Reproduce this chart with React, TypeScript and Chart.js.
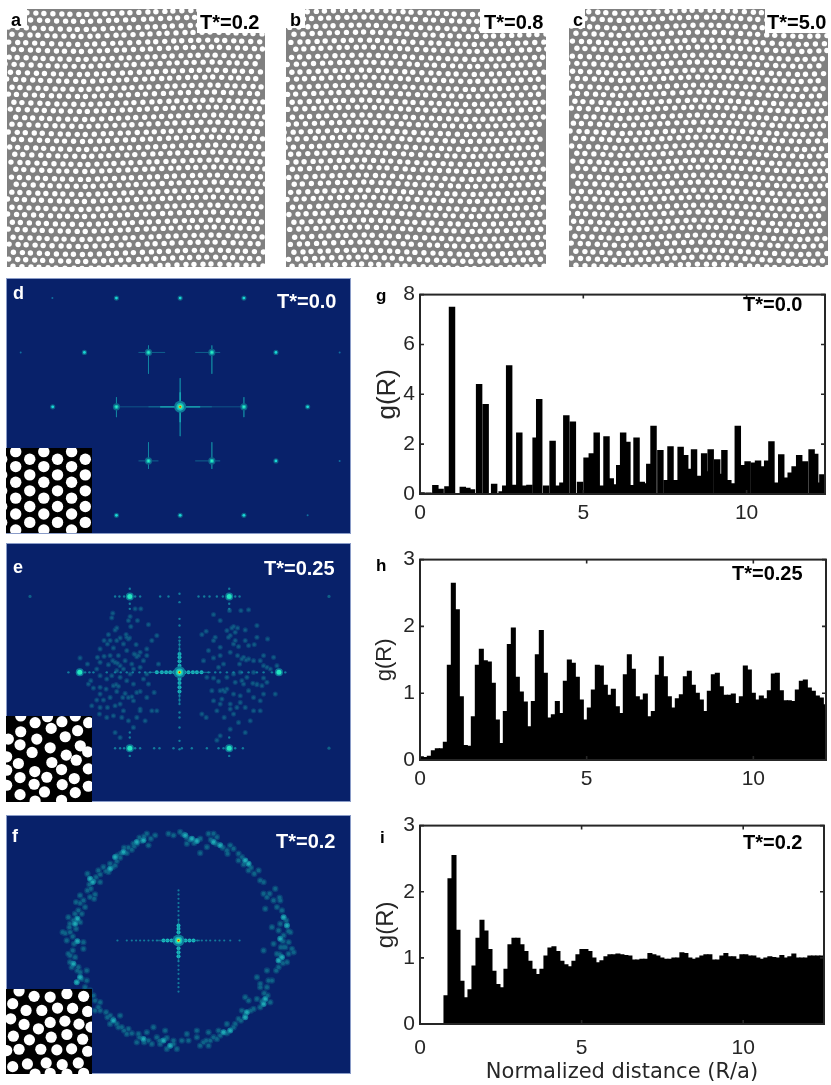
import React, { useEffect, useRef } from "react";
import { Chart, registerables } from "chart.js";
Chart.register(...registerables);

// ---- g(R) histograms ----
const gX = [.05,.26,.47,.63,.84,.98,1.31,1.45,1.59,1.81,2.01,2.27,2.5,2.61,2.73,2.88,3.04,3.18,3.35,3.54,3.65,3.86,4.06,4.2,4.36,4.48,4.68,4.9,5.1,5.26,5.41,5.56,5.71,5.84,5.97,6.1,6.22,6.35,6.48,6.63,6.79,6.92,7.02,7.15,7.36,7.55,7.67,7.84,7.98,8.12,8.23,8.39,8.53,8.7,8.8,8.9,9.1,9.2,9.32,9.44,9.57,9.73,9.87,10.03,10.22,10.35,10.51,10.63,10.76,10.91,11.06,11.2,11.35,11.47,11.61,11.79,11.99,12.1,12.2,12.32,12.38];
const gY = [.06,.05,.35,.2,.3,7.5,.28,.24,.18,4.4,3.6,.4,.1,.33,5.15,.36,2.45,.33,.36,2.25,3.8,.33,2.12,.33,.45,3.15,2.9,.48,1.45,1.62,2.45,.33,2.3,.62,.38,1.15,2.45,2.08,.35,2.25,.48,.42,1.2,2.72,1.75,.55,1.9,.55,1.88,1.55,1,1.78,.72,1.62,.9,1.78,1.38,.8,1.75,.55,.42,2.72,1.15,1.3,1.25,1.33,1.1,1.33,2.1,.45,1.58,.65,.85,1.1,1.55,1.3,1.78,1.6,.45,.78,.72];
const hY = [.05,.04,.06,.14,.17,.17,.27,1.42,2.65,2.25,.95,.22,.21,.65,1.42,1.66,1.49,1.47,1.15,.6,.25,.73,1.73,1.98,1.24,1.02,.87,.5,.88,1.58,1.94,1.3,.63,.68,.88,.7,1.18,1.5,1.45,1.24,.9,.6,.78,1.05,1.42,1.41,1.12,.97,1.06,.8,.7,1.28,1.58,1.36,.95,.9,.99,.65,.73,1.27,1.55,1.25,.95,.78,.92,.98,1.25,1.33,1.12,1,.9,.73,1.03,1.28,1.3,1.1,.97,.97,.99,.85,.95,1.41,1.35,1,.9,.96,.92,1.04,1.29,1.3,1.04,.89,.89,.88,1.05,1.18,1.2,1.08,1.03,.96,.93,.83];
const iY = [.43,2.2,2.55,1.42,.65,.4,.52,.88,1.3,1.57,1.41,1.13,.8,.6,.55,.83,1.2,1.3,1.3,1.2,1.1,.95,.83,.75,.83,1.03,1.15,1.17,1.1,.95,.9,.87,.95,1.05,1.13,1.13,1.1,1,.93,.96,1.02,1.05,1.05,1.06,1.05,1.04,1.03,.97,.97,.98,.98,1.07,1.05,1.03,1,.98,.98,1,1,1.08,1.07,1,.98,1,1.03,1.05,1.05,.97,.97,1.03,1.07,1.02,1.02,.98,1.05,1.05,1.03,1.03,1,.98,1,1.02,1.01,1,1.04,1,1.02,1.06,1,1,1,1.03,1.03,1.03,1.03];
const xTicks5 = [0, 5, 10];

// ---- real-space particle maps: [row y, x, x, ...] ----
const rowsAll = [
[3,3,12,20,29,37,46,55,63,72,80,89,98,106,115,123,132,141,149,158,166,175,184,192,201,209,218,227,235,244,252],
[10,7,16,24,33,41,50,59,67,76,84,93,102,110,119,127,137,145,154,163,171,180,188,197,206,214,223,231,240,249,257],
[18,2,11,20,28,37,45,54,63,71,80,88,97,106,114,123,132,141,149,158,166,175,184,192,201,209,218,227,235,244,252],
[25,6,15,24,32,41,49,58,67,75,84,92,101,110,118,127,136,144,153,161,170,179,187,196,204,213,222,230,239,247,256],
[33,3,12,20,29,37,46,55,63,72,81,89,98,107,115,124,133,142,150,159,168,176,185,193,202,211,219,228,236,245,254],
[40,8,16,25,33,42,51,59,68,76,85,94,102,111,119,128,137,145,154,163,171,180,188,197,206,214,223,232,240,249,257],
[48,4,12,21,30,38,47,55,64,73,81,90,98,107,116,124,133,142,150,159,167,176,185,193,202,210,219,228,236,245,253],
[55,0,9,17,26,35,43,52,60,69,78,86,95,103,112,121,129,138,146,155,164,172,181,189,198,207,215,224,232,241,250],
[63,5,13,22,31,39,48,56,65,74,82,91,99,108,117,125,134,143,151,160,168,177,186,194,203,211,220,229,237,246,255],
[70,1,10,18,27,35,44,53,61,70,78,87,96,104,113,121,130,139,147,156,164,173,182,190,199,207,216,225,233,242,250],
[78,6,14,23,32,40,49,57,66,75,83,92,100,109,118,126,135,143,152,161,169,178,186,195,204,212,221,229,238,247,255],
[85,2,10,19,28,36,45,53,62,71,79,88,96,105,114,122,131,139,148,157,165,174,182,191,200,208,217,225,234,243,251],
[93,7,15,24,33,41,50,58,67,76,84,93,101,110,119,127,136,145,153,162,170,179,188,196,205,213,222,231,239,248,256],
[100,3,11,20,29,37,46,54,63,72,80,89,97,106,115,123,132,140,149,158,166,175,183,192,201,209,218,226,235,244,252],
[108,8,17,25,34,42,51,60,68,77,85,94,103,111,120,128,137,146,154,163,171,180,189,197,206,214,223,232,240,249,257],
[115,4,12,21,30,38,47,55,64,73,81,90,98,107,116,124,133,141,150,159,167,176,184,193,202,210,219,227,236,245,253],
[123,0,9,17,26,34,43,52,60,69,77,86,95,103,112,120,129,138,146,155,163,172,181,189,198,206,215,224,232,241,249],
[130,5,13,22,31,39,48,56,65,74,82,91,99,108,117,125,134,142,151,160,168,177,185,194,203,211,220,228,237,246,254],
[138,1,9,18,27,35,44,52,61,70,78,87,95,104,113,121,130,139,147,156,164,173,182,190,199,207,216,225,233,242,250],
[145,6,14,23,32,40,49,57,66,75,83,92,100,109,118,126,135,144,152,161,169,178,187,195,204,212,221,230,238,247,255],
[153,2,11,19,28,36,45,54,62,71,79,88,97,105,114,122,131,140,148,157,165,174,183,191,200,208,217,226,234,243,251],
[160,7,15,24,33,41,50,58,67,76,84,93,101,110,119,127,136,144,153,162,170,179,187,196,205,213,222,230,239,248,256],
[168,3,11,20,29,37,46,54,63,72,80,89,97,106,115,123,132,141,149,158,166,175,184,192,201,209,218,227,235,244,252],
[175,8,16,25,34,42,51,59,68,77,85,94,102,111,120,128,137,145,154,163,171,180,188,197,206,214,223,231,240,249,257],
[183,4,12,21,30,38,47,55,64,73,81,90,98,107,116,124,133,142,150,159,167,176,185,193,202,210,219,228,236,245,253],
[190,0,9,17,26,34,43,52,60,69,77,86,95,103,112,120,129,138,146,155,163,172,181,189,198,206,215,224,232,241,249],
[198,5,13,22,31,39,48,56,65,74,82,91,99,108,117,125,134,142,151,160,168,177,185,194,203,211,220,228,237,246,254],
[205,1,10,18,27,35,44,53,61,70,78,87,96,104,113,121,130,139,147,156,164,173,182,190,199,207,216,225,233,242,250],
[213,6,14,23,32,40,49,57,66,75,83,92,100,109,118,126,135,143,152,161,169,178,186,195,204,212,221,229,238,247,255],
[220,2,11,19,28,36,45,54,62,71,79,88,97,105,114,122,131,140,148,157,165,174,183,191,200,208,217,226,234,243,251],
[228,7,15,24,33,41,50,58,67,76,84,93,101,110,119,127,136,145,153,162,170,179,188,196,205,213,222,231,239,248,256],
[235,3,12,20,29,37,46,55,63,72,80,89,98,106,115,123,132,141,149,158,166,175,184,192,201,209,218,227,235,244,252],
[243,7,16,24,33,41,50,59,67,76,84,93,102,110,119,127,136,145,153,162,171,179,188,196,205,214,222,231,239,248,257],
[250,2,11,19,28,36,45,54,62,71,79,88,97,105,114,122,132,140,149,157,166,175,183,192,200,209,218,226,235,243,252],
[257,6,15,24,32,41,49,58,67,75,84,92,101,110,118,127,136,144,153,161,170,179,187,196,204,213,222,230,239,247,256],
];
// hand-set lattice drift of each map: row-height change across the width, column change down the height
const driftA = { y:[0,1,2,2.5,1.5,.5,-.5,-1.5,-2,-1,0], x:[0,-1,-2,-1,.5,1.5,2,1,-.5,-1,0] };
const driftB = { y:[.5,-.5,-1.5,-2,-1,.5,1.5,2.5,2,1,0], x:[1,2,1.5,0,-1.5,-2,-1,.5,2,1.5,0] };
const driftC = { y:[-1,0,1.5,.5,-1,-2,-1.5,0,1.5,2.5,1.5], x:[-.5,1,-1,-2,-.5,1.5,2,.5,-1.5,-1,1] };

// ---- FFT spots, in units of the image ----
const dCenter = [540,394];
const dStrong = [445,231,635,231,445,556,635,556,349,394,731,394];
const dMid = [349,68,540,68,731,68,253,231,827,231,158,394,922,394,827,556,349,719,540,719,731,719];
const dFaint = [157,68,62,231,1018,231,1018,556,922,719];
const dArmsBright = [480,394,600,394,540,350,540,440];
const dArmsMid = [445,394,635,394,540,308,540,482,349,365,349,425,731,365,731,425,445,210,445,295,635,210,635,295,445,500,445,580,635,500,635,580,415,231,495,231,585,231,660,231,415,556,475,556,585,556,660,556];
const dArmsFaint = [349,394,731,394];

const eCenter = [538,395];
const eStrong = [389,168,687,168,389,622,687,622,239,395,836,395];
const eFaint = [90,168,986,168,986,622];
const eArmDotsBright = [470,395,485,395,498,395,510,395,522,395,553,395,565,395,578,395,590,395,604,395,538,340,538,350,538,362,538,375,538,415,538,427,538,440,538,452];
const eArmDotsDim = [345,168,358,168,372,168,405,168,420,168,480,168,505,168,595,168,612,168,628,168,650,168,668,168,705,168,718,168,345,622,360,622,372,622,405,622,420,622,462,622,478,622,520,622,545,622,575,622,620,622,655,622,670,622,705,622,728,622,389,145,389,190,389,205,687,145,687,190,687,205,389,575,389,590,389,645,687,590,687,645,205,395,255,395,268,395,280,395,320,395,345,395,362,395,380,395,398,395,418,395,435,395,450,395,625,395,645,395,660,395,680,395,700,395,725,395,745,395,770,395,790,395,815,395,855,395,538,160,538,185,538,235,538,255,538,290,538,300,538,312,538,325,538,465,538,478,538,490,538,515,538,530,538,560,538,600,538,625];
const eSpeckle = [338,218,335,232,390,228,405,205,422,205,345,268,325,282,360,292,385,295,322,310,300,325,340,322,292,350,312,347,345,365,402,340,415,345,440,345,240,352,375,360,395,370,430,360,300,365,265,430,280,442,340,435,355,437,300,460,310,478,345,495,370,510,400,480,420,505,440,470,455,510,470,510,275,495,322,500,385,540,345,575,360,590,400,560,420,452,290,385,350,262,378,282,392,258,412,240,385,240,370,310,408,312,440,325,420,335,330,345,355,345,380,330,360,375,325,372,400,385,300,405,320,415,380,420,400,430,430,415,445,430,350,452,375,458,395,468,330,470,290,478,360,490,410,530,435,540,365,530,340,525,320,530,298,520,462,455,475,370,455,300,470,285,445,252,335,405,360,410,262,370,272,420,
348,432,345,365,352,368,338,360,405,342,410,348,380,290,388,292,312,300,330,300,350,300,368,470,385,470,300,440,318,445,410,455,440,400,420,380,350,390,370,385,390,400,420,510,300,500,
640,222,660,240,688,210,722,210,745,208,645,290,605,282,618,272,700,258,712,262,735,268,770,255,802,295,685,290,700,310,745,315,762,312,730,350,712,345,745,355,640,352,660,345,690,335,718,370,790,375,810,385,820,350,640,412,655,422,705,425,725,420,730,430,770,430,785,435,825,460,635,450,660,450,680,445,700,460,760,470,780,480,660,490,690,490,735,500,650,510,700,520,605,520,618,530,750,540,690,565,660,585,735,575,650,598,720,485,800,425,610,360,625,330,670,370,770,290,790,345,640,300,660,320,735,300,680,270,655,380,720,395,760,395,790,412,720,465,760,510,780,510,640,480,672,530,715,545,
695,262,705,275,690,285,725,355,738,358,668,448,674,452,770,432,758,428,705,300,715,318,780,360,760,360,700,400,740,410,680,410,620,410,665,475,690,505,710,500,745,450,790,460,800,380,830,375];

const fCenter = [535,390];
const fArmDotsBright = [490,390,502,390,514,390,556,390,568,390,580,390,535,345,535,355,535,365,535,413,535,425,535,437];
const fArmDotsDim = [380,390,395,390,408,390,420,390,432,390,445,390,458,390,470,390,592,390,605,390,618,390,630,390,645,390,658,390,672,390,690,390,352,390,718,390,535,240,535,252,535,265,535,278,535,290,535,302,535,315,535,328,535,452,535,465,535,478,535,490,535,505,535,518,535,530,535,543];
const fRingBright = [330,175,345,140,370,125,410,95,430,90,555,75,575,85,590,92,640,95,660,105,735,150,745,160,270,205,278,215,232,325,232,392,225,340,850,320,860,345,840,385,835,450,845,440,795,565,790,580,740,605,735,620,690,660,670,665,430,685,490,690,510,705,340,630,240,500,230,515,220,460];
const fRing = [410,100,440,70,425,92,395,118,380,128,352,135,318,182,330,160,362,130,300,192,262,190,268,222,262,240,285,252,282,265,240,278,255,290,205,320,225,310,240,335,210,365,218,378,195,368,250,395,218,420,210,435,225,440,250,415,235,470,215,470,240,485,260,510,270,540,285,570,295,590,322,620,330,640,350,640,365,650,385,655,380,670,415,670,410,695,445,690,470,680,480,700,520,700,530,715,500,715,545,690,565,690,590,680,610,695,630,690,625,705,650,685,655,660,680,640,705,640,715,625,725,600,760,595,770,565,780,590,800,530,810,575,780,530,805,510,800,480,835,470,860,455,865,430,875,415,830,430,820,400,855,410,865,395,850,375,870,365,835,360,840,340,830,290,820,270,840,270,825,235,790,250,775,180,780,210,745,180,715,150,715,130,690,105,680,120,650,80,625,70,640,70,600,85,540,65,520,75,505,70,560,100,465,75,445,105,400,100,372,112,345,165,310,170,288,200,300,215,270,260,228,355,200,390,188,365,245,310,240,255,228,275,210,340,800,260,795,295,770,500,735,560,780,520,745,570,625,665,590,660,560,670,495,660,460,650,440,665,360,615,600,128,620,110,330,615,300,600,285,600,260,480,850,410,790,420,815,350,880,425,
325,185,338,170,350,152,360,142,385,112,402,108,418,82,432,78,452,85,560,82,568,90,582,98,548,72,632,88,648,100,668,112,682,130,700,115,725,140,730,162,752,172,762,190,790,215,808,250,838,262,845,300,858,330,865,362,848,392,842,410,838,432,848,458,828,480,815,510,792,548,785,572,802,555,752,600,735,610,722,630,700,650,680,668,660,675,640,680,618,690,600,705,520,690,500,682,478,690,455,700,432,695,418,680,395,668,372,660,355,650,338,625,318,605,300,575,280,555,255,530,245,505,232,480,210,455,205,430,222,400,208,350,220,330,235,300,250,270,272,235,282,210,295,180];

const dInset = [47,530,47,575,47,622,47,670,47,718,47,766,89,553,89,600,89,648,89,695,89,743,131,530,131,575,131,622,131,670,131,718,131,766,172,553,172,600,172,648,172,695,172,743,214,530,214,575,214,622,214,670,214,718,214,766,255,553,255,600,255,648,255,695,255,743,5,553,5,600,5,648,5,695,5,743];
const eInset = [62,575,105,548,142,530,185,545,265,548,232,572,153,565,195,590,110,597,25,597,60,614,240,617,262,635,150,623,96,637,198,645,228,660,55,670,155,667,184,688,104,694,264,686,60,712,140,711,222,715,102,732,186,733,264,738,133,755,225,757,60,763,184,780,105,782,20,690,20,735,20,650,62,528,225,528];
const fInset = [57,542,102,558,150,560,200,550,250,558,38,580,78,600,125,600,172,593,217,594,262,603,32,625,72,642,115,655,150,636,194,632,236,641,272,650,40,677,88,688,153,680,200,672,247,686,57,716,122,716,170,718,214,715,262,722,38,768,82,760,138,757,186,762,234,757,105,790,150,788,200,790,250,788,20,720];

const pairs = (a: number[]) => { const o: {x:number,y:number}[] = []; for (let i=0;i<a.length;i+=2) o.push({x:a[i],y:a[i+1]}); return o; };
const look = (t:number[], v:number) => { const p=Math.max(0,Math.min(9.999,v/25.8)); const i=Math.floor(p); return t[i]+(t[i+1]-t[i])*(p-i); };
const rowsToPoints = (rows: number[][], d:{x:number[],y:number[]}) => rows.flatMap(r => r.slice(1).map(x => ({x:x+look(d.x,r[0]), y:r[0]+look(d.y,x)})));
const layer = (a: number[], color: string, r: number) => ({ type:"scatter", data: pairs(a), backgroundColor: color, borderWidth:0, pointRadius:r, pointHoverRadius:r });
const arms = (a: number[], color: string, w: number) => { const out:any[]=[]; for (let i=0;i<a.length;i+=4) out.push({ type:"scatter", showLine:true, data:[{x:a[i],y:a[i+1]},{x:a[i+2],y:a[i+3]}], borderColor:color, borderWidth:w, pointRadius:0 }); return out; };

const INK = "#262626";
const frame = { id:"frame", afterDatasetsDraw(c:any){ const {ctx,chartArea:a,scales}=c; ctx.save(); ctx.strokeStyle=INK; ctx.lineWidth=1.6;
  ctx.beginPath();
  scales.x.ticks.forEach((t:any)=>{const p=scales.x.getPixelForValue(t.value); ctx.moveTo(p,a.top); ctx.lineTo(p,a.top+4); ctx.moveTo(p,a.bottom); ctx.lineTo(p,a.bottom-4);});
  scales.y.ticks.forEach((t:any)=>{const p=scales.y.getPixelForValue(t.value); ctx.moveTo(a.left,p); ctx.lineTo(a.left+4,p); ctx.moveTo(a.right,p); ctx.lineTo(a.right-4,p);});
  ctx.stroke(); ctx.lineWidth=2; ctx.strokeRect(a.left,a.top,a.right-a.left,a.bottom-a.top); ctx.restore(); } };
const fill = (bg:string, border?:string) => ({ id:"fill", beforeDraw(c:any){ const {ctx,chartArea:a}=c; ctx.save(); ctx.fillStyle=bg; ctx.fillRect(a.left,a.top,a.right-a.left,a.bottom-a.top); ctx.restore(); },
  afterDraw(c:any){ if(!border) return; const {ctx,width,height}=c; ctx.save(); ctx.strokeStyle=border; ctx.lineWidth=1; ctx.strokeRect(.5,.5,width-1,height-1); ctx.restore(); } });

const base = (xr:number[], yr:number[]) => ({ responsive:false, animation:false as const, events:[] as any[], layout:{padding:0,autoPadding:false},
  plugins:{legend:{display:false},tooltip:{enabled:false},title:{display:false}},
  scales:{ x:{type:"linear",min:xr[0],max:xr[1],display:false}, y:{type:"linear",min:yr[0],max:yr[1],reverse:true,display:false} } });

const Plot = ({box, config}:{box:number[],config:any}) => {
  const ref = useRef<HTMLCanvasElement>(null);
  useEffect(()=>{ const ch = new Chart(ref.current!, config); return ()=>ch.destroy(); },[]);
  return <canvas ref={ref} width={box[2]} height={box[3]} style={{position:"absolute",left:box[0],top:box[1],width:box[2],height:box[3]}}/>;
};

const dotsCfg = (rows:number[][], d:any) => ({ type:"scatter", data:{datasets:[{data:rowsToPoints(rows,d),backgroundColor:"#fff",borderWidth:0,pointRadius:2.7}]}, options:base([0,258],[0,258]), plugins:[fill("#808080")] });
const fftCfg = (datasets:any[], y0:number, y1:number) => ({ type:"scatter", data:{datasets:[...datasets].reverse()}, options:base([18,1052],[y0,y1]), plugins:[fill("#08216a","#8a9cc8")] });
const insetCfg = (pts:number[], y0:number, y1:number, r:number) => ({ type:"scatter", data:{datasets:[{data:pairs(pts),backgroundColor:"#fff",borderWidth:0,pointRadius:r}]}, options:base([18,275],[y0,y1]), plugins:[fill("#000")] });

const core = (c:number[]) => [layer(c,"#0e7a98",6),layer(c,"#16bcc0",3.8),layer(c,"#3df09a",2.4),layer(c,"#e8e020",1.4),layer(c,"#c81e10",.8)];
const dSets = [...arms(dArmsFaint,"rgba(20,130,160,.55)",1),...arms(dArmsMid,"rgba(20,140,165,.6)",1),...arms(dArmsBright,"#18a8b4",1.4),
  layer(dFaint,"#1070a0",1),layer(dMid,"#0e5f85",2.6),layer(dMid,"#18d8d8",1.4),layer(dStrong,"#0e6488",3.6),layer(dStrong,"#12b5b5",2.2),layer(dStrong,"#2ef0c0",1.1),...core(dCenter)];
const eSets = [layer(eSpeckle,"#0b3d78",2.6),layer(eSpeckle,"#0f5a84",1.5),layer(eFaint,"#0f6088",1.6),layer(eArmDotsDim,"#127a9c",1.2),layer(eArmDotsBright,"#18b8bc",2),
  ...arms([538,300,538,490,445,395,632,395],"rgba(20,140,165,.6)",1.4),layer(eStrong,"#0f7a98",4),layer(eStrong,"#22e6c0",2.5),
  ...core(eCenter)];
const fSets = [layer(fRing,"#0b4078",3.2),layer(fRing,"#0e6388",1.9),layer(fRingBright,"#127c9c",3),layer(fRingBright,"#1fa8b4",1.7),layer(fArmDotsDim,"#127a9c",1.1),layer(fArmDotsBright,"#18c0c0",2),
  ...arms([535,325,535,455,470,390,600,390],"rgba(20,140,165,.6)",1.4),
  ...core(fCenter)];

const barCfg = (xs:number[], ys:number[], o:{xMax:number,yMax:number,yStep:number,thick:number,h:number,w:number,top:number,right:number,titleSize:number,tickPad:number,xTitle?:string}) => ({
  type:"bar",
  data:{datasets:[{data:xs.map((x,i)=>({x,y:ys[i]})),backgroundColor:"#000",borderWidth:0,barThickness:o.thick}]},
  options:{ responsive:false, animation:false as const, events:[] as any[], layout:{autoPadding:false,padding:{top:o.top,right:o.right,left:0,bottom:0}},
    plugins:{legend:{display:false},tooltip:{enabled:false}},
    scales:{
      x:{type:"linear",offset:false,min:0,max:o.xMax,afterBuildTicks:(s:any)=>{s.ticks=xTicks5.map(value=>({value}));},afterFit:(s:any)=>{s.height=o.h;},grid:{display:false,drawTicks:false,tickLength:0},border:{display:false},
        ticks:{includeBounds:false,maxRotation:0,padding:o.tickPad,color:INK,font:{family:"'Liberation Sans'",size:21}},
        title:o.xTitle?{display:true,text:o.xTitle,color:INK,font:{family:"'DejaVu Sans'",size:21},padding:{top:0,bottom:0}}:{display:false}},
      y:{min:0,max:o.yMax,afterFit:(s:any)=>{s.width=o.w;},grid:{display:false,drawTicks:false,tickLength:0},border:{display:false},
        ticks:{stepSize:o.yStep,includeBounds:false,padding:5,color:INK,font:{family:"'Liberation Sans'",size:21}},
        title:{display:true,text:"g(R)",color:INK,font:{family:"'Liberation Sans'",size:o.titleSize},padding:0}}
    } },
  plugins:[frame] });

const hX = hY.map((_,n)=>.04+.12*n);
const iX = iY.map((_,k)=>(78+12*k)/97);

const Txt = ({x,y,t,size=20,color="#000"}:{x:number,y:number,t:string,size?:number,color?:string}) =>
  <div style={{position:"absolute",left:x,top:y,transform:"translateY(-50%)",fontFamily:"'Liberation Sans'",fontWeight:700,fontSize:size,lineHeight:1,color,whiteSpace:"nowrap"}}>{t}</div>;
const White = ({b}:{b:number[]}) => <div style={{position:"absolute",left:b[0],top:b[1],width:b[2],height:b[3],background:"#fff"}}/>;

export default function App(){
  return <div style={{position:"absolute",left:0,top:0,width:831,height:1085,overflow:"hidden",background:"#fff"}}>
    <Plot box={[7,9,258,258]} config={dotsCfg(rowsAll,driftA)}/>
    <Plot box={[286,9,260,258]} config={dotsCfg(rowsAll,driftB)}/>
    <Plot box={[569,9,259,258]} config={dotsCfg(rowsAll,driftC)}/>
    <White b={[7,0,20,28]}/><White b={[197,0,68,33]}/>
    <White b={[286,0,19,28]}/><White b={[480,0,66,33]}/>
    <White b={[569,0,16,28]}/><White b={[765,0,63,33]}/>
    <Txt x={11} y={20} t="a" size={18}/><Txt x={200} y={22} t="T*=0.2"/>
    <Txt x={290} y={20} t="b" size={18}/><Txt x={484} y={22} t="T*=0.8"/>
    <Txt x={573} y={20} t="c" size={18}/><Txt x={767} y={22} t="T*=5.0"/>

    <Plot box={[6,278,345,256]} config={fftCfg(dSets,8,775)}/>
    <Plot box={[6,448,86,85]} config={insetCfg(dInset,519,775,5.7)}/>
    <Plot box={[6,543,345,259]} config={fftCfg(eSets,8,783)}/>
    <Plot box={[6,716,86,86]} config={insetCfg(eInset,528,785,5.6)}/>
    <Plot box={[6,815,345,259]} config={fftCfg(fSets,14,790)}/>
    <Plot box={[6,989,86,85]} config={insetCfg(fInset,536,790,5.6)}/>
    <Txt x={13} y={293} t="d" size={18} color="#fff"/><Txt x={277} y={301} t="T*=0.0" color="#fff"/>
    <Txt x={13} y={567} t="e" size={18} color="#fff"/><Txt x={264} y={568} t="T*=0.25" color="#fff"/>
    <Txt x={12} y={836} t="f" size={18} color="#fff"/><Txt x={276} y={841} t="T*=0.2" color="#fff"/>

    <Plot box={[372,277,459,250]} config={barCfg(gX,gY,{xMax:12.4,yMax:8,yStep:2,thick:5.8,h:33,w:48,top:12,right:6,titleSize:26,tickPad:7})}/>
    <Plot box={[372,542,459,250]} config={barCfg(hX,hY,{xMax:12.18,yMax:3,yStep:1,thick:4.4,h:32,w:48,top:12,right:5,titleSize:22,tickPad:7})}/>
    <Plot box={[372,808,459,277]} config={barCfg(iX,iY,{xMax:12.5,yMax:3,yStep:1,thick:4.4,h:61,w:48,top:12,right:7,titleSize:24,tickPad:12,xTitle:"Normalized distance (R/a)"})}/>
    <Txt x={376} y={295} t="g" size={17}/><Txt x={743} y={304} t="T*=0.0"/>
    <Txt x={376} y={565} t="h" size={17}/><Txt x={732} y={573} t="T*=0.25"/>
    <Txt x={380} y={837} t="i" size={17}/><Txt x={743} y={842} t="T*=0.2"/>
  </div>;
}
